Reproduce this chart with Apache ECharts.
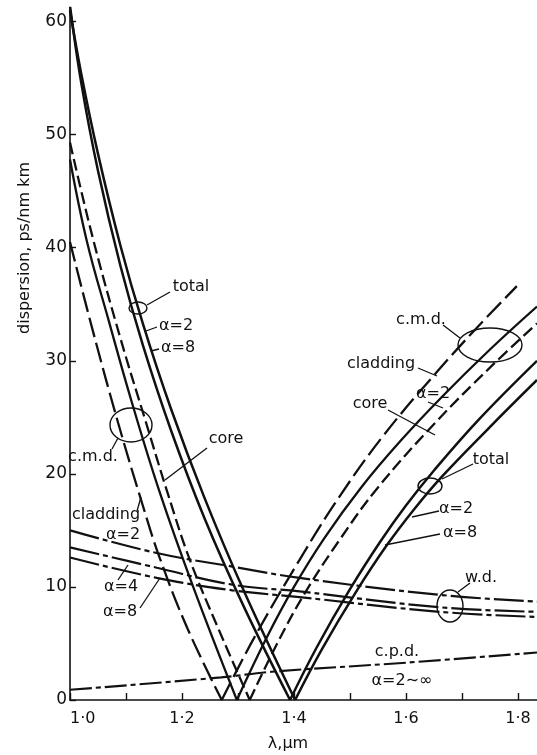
<!DOCTYPE html>
<html><head><meta charset="utf-8">
<script src="https://cdn.jsdelivr.net/npm/echarts@6/dist/echarts.min.js"></script>
<style>html,body{margin:0;padding:0;background:#fff}#c{width:537px;height:755px}</style>
</head><body><div id="c"></div>
<script>
// ---- data (wavelength in µm, dispersion in ps/nm km) ----
const xTickLabels = ['1·0','1·2','1·4','1·6','1·8'];
const yTickValues = [0,10,20,30,40,50,60];
const claddingDown = [[1.0,40.5],[1.04,32.8],[1.086,24.5],[1.13,17.2],[1.16,12.6],[1.21,6.3],[1.271,0]];
const claddingUp   = [[1.271,0],[1.33,5.6],[1.41,12.4],[1.48,17.9],[1.56,23.4],[1.655,29.0],[1.73,33.1],[1.798,36.6]];
const cmdDown      = [[1.0,47.8],[1.03,40.6],[1.07,33.4],[1.11,26.4],[1.16,18.4],[1.22,10.0],[1.298,0]];
const cmdUp        = [[1.298,0],[1.35,5.4],[1.40,10.0],[1.454,14.3],[1.52,18.8],[1.59,22.9],[1.664,26.8],[1.75,31.0],[1.834,34.8]];
const coreDown     = [[1.0,49.3],[1.04,41.0],[1.09,32.0],[1.136,24.5],[1.175,18.2],[1.214,12.4],[1.265,6.3],[1.321,0]];
const coreUp       = [[1.321,0],[1.37,5.0],[1.42,9.5],[1.482,14.2],[1.55,18.8],[1.652,24.5],[1.75,29.4],[1.834,33.3]];
const total2Down   = [[1.0,61.4],[1.02,54.6],[1.05,46.8],[1.09,38.4],[1.13,31.4],[1.18,23.9],[1.24,16.1],[1.31,8.3],[1.393,0]];
const total2Up     = [[1.393,0],[1.44,4.6],[1.50,9.8],[1.554,14.0],[1.60,17.2],[1.65,20.3],[1.73,24.8],[1.834,30.0]];
const total8Down   = [[1.0,61.0],[1.02,55.4],[1.05,48.3],[1.09,40.2],[1.13,33.3],[1.18,25.8],[1.24,17.9],[1.31,9.7],[1.402,0]];
const total8Up     = [[1.402,0],[1.45,4.5],[1.51,9.5],[1.566,13.7],[1.615,16.9],[1.665,19.8],[1.745,23.9],[1.834,28.3]];
const wd2          = [[1.0,15.0],[1.155,13.0],[1.29,11.8],[1.41,10.8],[1.66,9.3],[1.834,8.7]];
const wd4          = [[1.0,13.5],[1.155,11.7],[1.29,10.2],[1.41,9.6],[1.66,8.2],[1.834,7.8]];
const wd8          = [[1.0,12.6],[1.155,10.8],[1.29,9.7],[1.41,9.1],[1.66,7.8],[1.834,7.35]];
const cpd          = [[1.0,0.9],[1.27,2.0],[1.36,2.5],[1.6,3.3],[1.834,4.2]];

// ---- annotation layout (pixels) ----
const FONT = '16px "DejaVu Sans"';
const annTexts = [
  ['total',191,287],['α=2',176,326],['α=8',178,348],['c.m.d.',93,457],['core',226,439],
  ['cladding',106,515],['α=2',123,535],['α=4',121,587],['α=8',120,612],
  ['c.m.d.',421,320],['cladding',381,364],['α=2',433,394],['core',370,404],
  ['total',491,460],['α=2',456,509],['α=8',460,533],['w.d.',481,578],
  ['c.p.d.',397,652],['α=2∼∞',402,681]
];
const annEllipses = [[138,308,9,6],[131,425,21,17],[490,345,32,17],[430,486,12,8],[450,606,13,16]];
const annLeaders = [
  [147,305,170,292],[157,327,146,331],[159,349,151,351],[112,449,118,438],[207,448,165,480],
  [137,511,141,497],[118,580,128,565],[140,608,160,578],[443,325,460,338],[418,368,437,376],
  [428,402,443,408],[388,410,435,435],[442,479,473,464],[439,511,412,517],[440,534,385,545],
  [458,592,470,583]
];

const chart = echarts.init(document.getElementById('c'));
const K = '#111';
function ser(data, width, type){
  return {type:'line', data, showSymbol:false, smooth:0.4, silent:true,
    lineStyle:{color:K, width, type: type || 'solid', cap:'butt'}};
}
const series = [
  ser(claddingDown,2.3,[20,6]), ser(claddingUp,2.3,[20,6]),
  ser(cmdDown,2.3), ser(cmdUp,2.3),
  ser(coreDown,2.3,[12,5]), ser(coreUp,2.3,[12,5]),
  ser(total2Down,2.5), ser(total2Up,2.5),
  ser(total8Down,2.5), ser(total8Up,2.5),
  ser(wd2,2.2,[30,4,5,4]), ser(wd4,2.2,[30,4,5,4]), ser(wd8,2.2,[30,4,5,4]),
  ser(cpd,2.1,[22,4,5,4])
];

const graphic = [];
annTexts.forEach(t => graphic.push({type:'text', x:t[1], y:t[2], silent:true,
  style:{text:t[0], font:FONT, fill:K, textAlign:'center', textVerticalAlign:'middle'}}));
annEllipses.forEach(e => graphic.push({type:'ellipse', silent:true, shape:{cx:e[0],cy:e[1],rx:e[2],ry:e[3]},
  style:{fill:'none', stroke:K, lineWidth:1.4}}));
annLeaders.forEach(l => graphic.push({type:'line', silent:true, shape:{x1:l[0],y1:l[1],x2:l[2],y2:l[3]},
  style:{stroke:K, lineWidth:1.3}}));
graphic.push({type:'text', x:25, y:248, rotation:Math.PI/2, silent:true,
  style:{text:'dispersion, ps/nm km', font:FONT, fill:K, textAlign:'center', textVerticalAlign:'middle'}});
graphic.push({type:'text', x:288, y:744, silent:true,
  style:{text:'λ,μm', font:FONT, fill:K, textAlign:'center', textVerticalAlign:'middle'}});

chart.setOption({
  animation:false,
  backgroundColor:'#fff',
  grid:{left:70, right:0, top:8, bottom:55, containLabel:false},
  xAxis:{type:'value', min:1.0, max:1.834, interval:0.1,
    axisLine:{lineStyle:{color:K, width:1.6}},
    axisTick:{inside:true, length:7, lineStyle:{color:K, width:1.4}},
    splitLine:{show:false},
    axisLabel:{color:K, fontFamily:'DejaVu Sans', fontSize:16, margin:11, showMaxLabel:false, alignMinLabel:'left',
      formatter: v => { const k = Math.round((v-1)*10); return (k%2===0 && k>=0 && k<=8) ? xTickLabels[k/2] : ''; }}},
  yAxis:{type:'value', min:0, max:61.2, interval:10,
    axisLine:{show:true, lineStyle:{color:K, width:1.6}},
    axisTick:{show:true, inside:true, length:6, lineStyle:{color:K, width:1.4}},
    splitLine:{show:false},
    axisLabel:{color:K, fontFamily:'DejaVu Sans', fontSize:17, margin:3, showMaxLabel:false,
      formatter: v => yTickValues.indexOf(Math.round(v))>=0 && Math.abs(v-Math.round(v))<1e-6 ? String(Math.round(v)) : ''}},
  series,
  graphic
});
</script></body></html>
